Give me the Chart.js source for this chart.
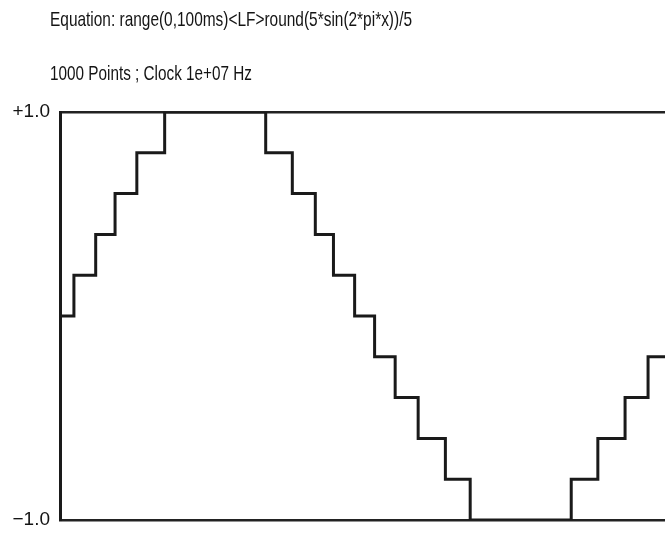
<!DOCTYPE html>
<html>
<head>
<meta charset="utf-8">
<script src="https://cdn.jsdelivr.net/npm/chart.js@4"></script>
<style>
html, body { margin: 0; padding: 0; background: #fff; overflow: hidden; }
</style>
</head>
<body>
<canvas id="waveChart" width="665" height="535"></canvas>
<script>
// header text above the plot
const headerLines = ['Equation: range(0,100ms)<LF>round(5*sin(2*pi*x))/5', '1000 Points ; Clock 1e+07 Hz'];

// step edges (sample index, 0..1000) and the level after each edge
const stepX = [0, 23, 59, 91, 127, 173, 340, 384, 422, 452, 487, 520, 554, 592, 637, 678, 845, 889, 934, 972, 1000];
const stepY = [0, 0.2, 0.4, 0.6, 0.8, 1.0, 0.8, 0.6, 0.4, 0.2, 0, -0.2, -0.4, -0.6, -0.8, -1.0, -0.8, -0.6, -0.4, -0.2, -0.2];

const yTicks = [-1, 1];
const yTickLabels = ['\u22121.0', '+1.0'];

const textFont = '"Liberation Sans", Arial, sans-serif';

// draws the two header lines, squeezed to the condensed look of the original
const headerPlugin = {
    id: 'header',
    afterDraw(chart) {
        const ctx = chart.ctx;
        const widths = [362, 202];
        const baselines = [26, 80];
        ctx.save();
        ctx.fillStyle = '#141414';
        ctx.font = '21px ' + textFont;
        ctx.textBaseline = 'alphabetic';
        headerLines.forEach((line, i) => {
            const w = ctx.measureText(line).width;
            ctx.save();
            ctx.translate(50, baselines[i]);
            ctx.scale(widths[i] / w, 1);
            ctx.fillText(line, 0, 0);
            ctx.restore();
        });
        ctx.restore();
    }
};

const points = stepX.map((x, i) => ({ x: x, y: stepY[i] }));

const ctx = document.getElementById('waveChart').getContext('2d');
const waveChart = new Chart(ctx, {
    type: 'line',
    data: {
        datasets: [{
            data: points,
            stepped: true,
            borderColor: '#1a1a1a',
            borderWidth: 3,
            borderJoinStyle: 'miter',
            pointRadius: 0,
            fill: false
        }]
    },
    options: {
        responsive: false,
        animation: false,
        layout: {
            padding: { top: 112, bottom: 15, left: 0, right: 0 }
        },
        plugins: {
            legend: { display: false },
            tooltip: { enabled: false }
        },
        scales: {
            x: {
                type: 'linear',
                min: 0,
                max: 1000,
                display: false
            },
            y: {
                min: -1,
                max: 1,
                afterBuildTicks: scale => {
                    scale.ticks = yTicks.map(v => ({ value: v }));
                },
                afterFit: scale => {
                    scale.width = 60;
                    scale.paddingTop = 0;
                    scale.paddingBottom = 0;
                },
                ticks: {
                    padding: 10,
                    color: '#141414',
                    font: { family: textFont, size: 19 },
                    callback: (value) => yTickLabels[yTicks.indexOf(value)]
                },
                grid: {
                    drawTicks: false,
                    color: '#222',
                    lineWidth: 2.5
                },
                border: {
                    display: true,
                    color: '#1a1a1a',
                    width: 3
                }
            }
        }
    },
    plugins: [headerPlugin]
});
</script>
</body>
</html>
